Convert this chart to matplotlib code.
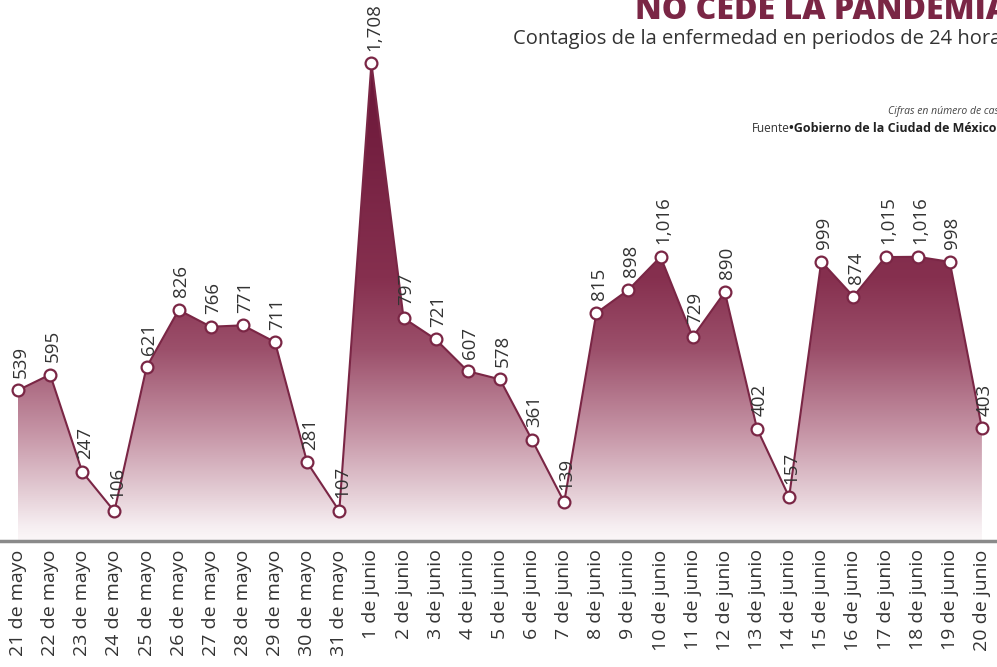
import matplotlib
matplotlib.use("Agg")
import matplotlib.pyplot as plt
import numpy as np
from matplotlib.colors import LinearSegmentedColormap
from matplotlib.patches import Polygon

dates = ["21 de mayo", "22 de mayo", "23 de mayo", "24 de mayo", "25 de mayo",
         "26 de mayo", "27 de mayo", "28 de mayo", "29 de mayo", "30 de mayo",
         "31 de mayo", "1 de junio", "2 de junio", "3 de junio", "4 de junio",
         "5 de junio", "6 de junio", "7 de junio", "8 de junio", "9 de junio",
         "10 de junio", "11 de junio", "12 de junio", "13 de junio", "14 de junio",
         "15 de junio", "16 de junio", "17 de junio", "18 de junio", "19 de junio",
         "20 de junio"]
cases = [539, 595, 247, 106, 621, 826, 766, 771, 711, 281, 107, 1708, 797, 721,
         607, 578, 361, 139, 815, 898, 1016, 729, 890, 402, 157, 999, 874, 1015,
         1016, 998, 403]

plt.rcParams['font.family'] = ['Open Sans', 'DejaVu Sans']

W, H = 997, 667
fig = plt.figure(figsize=(W / 100, H / 100), dpi=100)
axis_y = 541
ax = fig.add_axes([0, (H - axis_y) / H, 1, axis_y / H])

x = np.arange(len(cases))
ymax = 1934
ax.set_xlim(-0.56, 30.47)
ax.set_ylim(0, ymax)

maroon = "#7a2645"
cmap = LinearSegmentedColormap.from_list(
    "g", [(0.0, "#fbf7f8"), (0.03, "#f6eef1"), (0.10, "#e4cdd5"),
          (0.22, "#c797a8"), (0.40, "#9c506b"), (0.55, "#86304f"),
          (1.0, "#6a1638")])
grad = np.linspace(0, 1, 256).reshape(-1, 1)
img = ax.imshow(grad, aspect='auto', cmap=cmap, origin='lower',
                extent=[x[0], x[-1], 0, 1708], zorder=1, vmin=0, vmax=1)
verts = [(x[0], 0)] + list(zip(x, cases)) + [(x[-1], 0)]
poly = Polygon(verts, closed=True, facecolor='none', edgecolor='none')
ax.add_patch(poly)
img.set_clip_path(poly)

ax.plot(x, cases, color=maroon, lw=1.5, zorder=3)
ax.plot(x, cases, 'o', ms=8.5, mfc='white', mec=maroon, mew=1.6, zorder=4)

for xi, v in zip(x, cases):
    ax.text(xi + 0.08, v + 45, f"{v:,}", rotation=90, ha='center', va='bottom',
            fontsize=13.5, color='#333333', zorder=5)

for s in ['top', 'right', 'left']:
    ax.spines[s].set_visible(False)
ax.spines['bottom'].set_color('#8a8a8a')
ax.spines['bottom'].set_linewidth(2.5)
ax.set_yticks([])
ax.set_xticks(x)
ax.set_xticklabels(dates, rotation=90, fontsize=14, color='#333333')
ax.tick_params(axis='x', length=0, pad=6)

fig.text(1.012, 1.008, "NO CEDE LA PANDEMIA", ha='right', va='top',
         fontsize=23, fontweight='heavy', color='#7a2645')
fig.text(1.014, 0.942, "Contagios de la enfermedad en periodos de 24 horas",
         ha='right', va='center', fontsize=14.5, color='#333333')
fig.text(1.012, 0.833, "Cifras en número de casos", ha='right', va='center',
         fontsize=7.5, style='italic', color='#444444')
fig.text(0.754, 0.808, "Fuente", ha='left', va='center', fontsize=8.5,
         color='#333333')
fig.text(0.791, 0.808, "•Gobierno de la Ciudad de México", ha='left',
         va='center', fontsize=9, fontweight='bold', color='#222222')

fig.savefig("out.png", dpi=100)
